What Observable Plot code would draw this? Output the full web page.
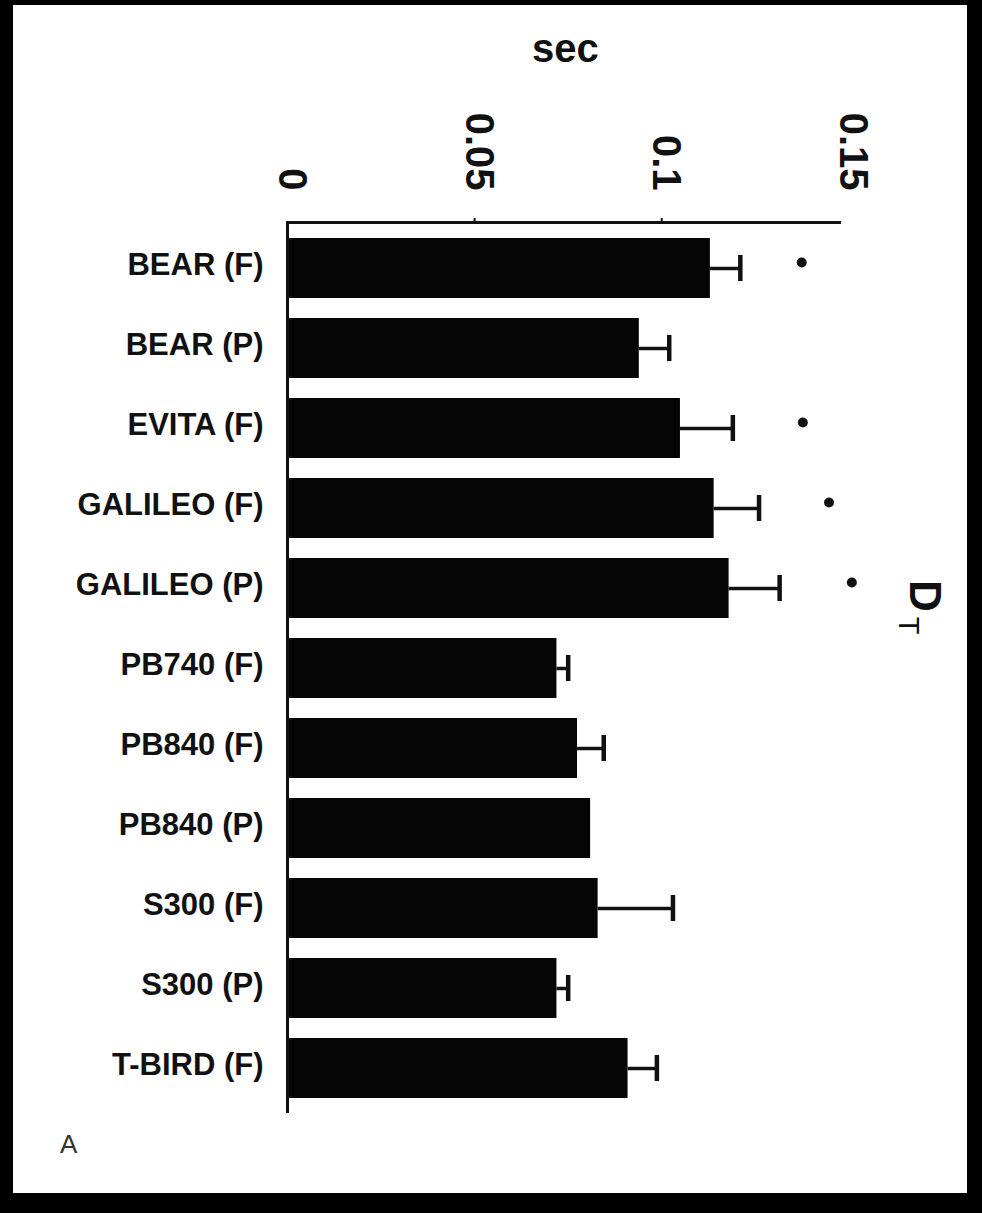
<!DOCTYPE html>
<html>
<head>
<meta charset="utf-8">
<script src="https://cdn.jsdelivr.net/npm/d3@7"></script>
<script src="https://cdn.jsdelivr.net/npm/@observablehq/plot@0.6"></script>
<style>
  html, body { margin: 0; padding: 0; background: #000; }
  #page { position: relative; width: 982px; height: 1213px; overflow: hidden; background: #000; }
  #panel { position: absolute; left: 13px; top: 5px; width: 954px; height: 1188px; background: #fff; }
  #chart { position: absolute; left: 0; top: 0; }
  .lbl { position: absolute; font-family: "Liberation Sans", Arial, sans-serif; color: #111; white-space: nowrap; }
  #sec { left: 532px; top: 28px; font-size: 40px; line-height: 40px; font-weight: bold; }
  #panelA { left: 60px; top: 1131px; font-size: 26px; line-height: 26px; color: #333; }
  #dt { left: 947px; top: 580px; font-size: 44px; line-height: 44px; font-weight: bold;
        transform: rotate(90deg); transform-origin: 0 0; }
  #dt span { font-size: 29px; font-weight: normal; position: relative; top: 11px; margin-left: 5px; }
</style>
</head>
<body>
<div id="page">
  <div id="panel"></div>
  <div id="chart"></div>
  <div class="lbl" id="sec">sec</div>
  <div class="lbl" id="dt">D<span>T</span></div>
  <div class="lbl" id="panelA">A</div>
</div>
<script>
// Categories (top to bottom)
const categories = ["BEAR (F)", "BEAR (P)", "EVITA (F)", "GALILEO (F)", "GALILEO (P)",
  "PB740 (F)", "PB840 (F)", "PB840 (P)", "S300 (F)", "S300 (P)", "T-BIRD (F)"];
// Mean D_T (sec)
const means = [0.113, 0.094, 0.105, 0.114, 0.118, 0.072, 0.0775, 0.081, 0.083, 0.072, 0.091];
// Error (sec)
const errors = [0.008, 0.008, 0.014, 0.012, 0.0135, 0.003, 0.007, 0, 0.020, 0.003, 0.0077];
// Significance markers
const sigCategories = ["BEAR (F)", "EVITA (F)", "GALILEO (F)", "GALILEO (P)"];
const sigPositions = [0.1374, 0.1377, 0.1447, 0.1508];
// X tick labels
const xTicks = [0, 0.05, 0.1, 0.15];
const xTickLabels = ["0", "0.05", "0.1", "0.15"];

const data = categories.map((c, i) => ({cat: c, value: means[i], err: errors[i], upper: means[i] + errors[i]}));
const errData = data.filter(d => d.err > 0);
const sigData = sigCategories.map((c, i) => ({cat: c, x: sigPositions[i]}));
const tickData = xTicks.map((t, i) => ({t, label: xTickLabels[i]}));

const font = "Liberation Sans, Arial, sans-serif";

const chart = Plot.plot({
  width: 982,
  height: 1213,
  marginLeft: 287,
  marginRight: 143,
  marginTop: 222,
  marginBottom: 100,
  style: {background: "transparent", fontFamily: font, color: "#111", overflow: "visible"},
  x: {domain: [0, 0.1475], axis: null},
  y: {domain: categories, paddingInner: 0.25, paddingOuter: 0.14, axis: null},
  marks: [
    Plot.barX(data, {y: "cat", x: "value", fill: "#050505"}),
    Plot.ruleY(errData, {y: "cat", x1: "value", x2: "upper", stroke: "#111", strokeWidth: 3.5}),
    Plot.tickX(errData, {y: "cat", x: "upper", stroke: "#111", strokeWidth: 4.5, insetTop: 17, insetBottom: 17}),
    Plot.dot(sigData, {y: "cat", x: "x", r: 5, fill: "#111", stroke: null, dy: -6}),
    Plot.frame({anchor: "top", stroke: "#111", strokeWidth: 3}),
    Plot.ruleX([0], {stroke: "#111", strokeWidth: 3}),
    Plot.axisX({anchor: "top", ticks: [0.05, 0.1], tickSize: 5, tickFormat: () => null, label: null, stroke: "#111", strokeWidth: 2}),
    Plot.text(tickData, {x: "t", text: "label", frameAnchor: "top", rotate: 90, textAnchor: "end",
      lineAnchor: "middle", dy: -32, dx: 4, fontSize: 40, fontWeight: "bold", fill: "#111"}),
    Plot.text(categories, {y: d => d, text: d => d, frameAnchor: "left", textAnchor: "end",
      dx: -24, dy: -3, fontSize: 31, fontWeight: "bold", fill: "#111"})
  ]
});
document.getElementById("chart").appendChild(chart);
</script>
</body>
</html>
